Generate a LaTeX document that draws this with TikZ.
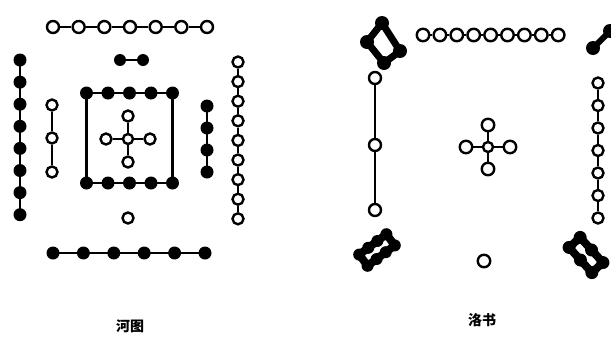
\documentclass[tikz,border=0pt]{standalone}
\usepackage{fontspec}
\newfontfamily\cjk{Noto Sans CJK SC}
\usepackage{tikz}
\usetikzlibrary{calc}

\begin{document}
\begin{tikzpicture}[x=1pt,y=-1pt,line width=2.4pt,
  wdot/.style={circle,draw,line width=2.4pt,fill=white,inner sep=0pt,minimum size=#1},
  wdot/.default=11pt,
  bdot/.style={circle,fill=black,inner sep=0pt,minimum size=#1},
  bdot/.default=13pt,
  blob/.style={line width=#1,line join=round,line cap=round},
  lbl/.style={font=\cjk\bfseries\fontsize{14}{14}\selectfont}]
\useasboundingbox (0,0) rectangle (611,338);
% He Tu
\foreach \i in {1,...,7} \node[wdot=12pt] (s7-\i) at ({53+25.67*(\i-1)},27) {};
\foreach \i [count=\j from 2] in {1,...,6} \draw (s7-\i) -- (s7-\j);
\node[bdot=12pt] (s2-1) at (120,60) {};
\node[bdot=12pt] (s2-2) at (143,60) {};
\draw (s2-1.center) -- (s2-2.center);
\foreach \i in {1,...,8} \node[bdot] (e8-\i) at (20,{60+22.1*(\i-1)}) {};
\draw (e8-1.center) -- (e8-8.center);
\foreach \i/\y in {1/105,2/138,3/172} \node[wdot] (e3-\i) at (52,\y) {};
\draw (e3-1) -- (e3-2) (e3-2) -- (e3-3);
\foreach \i in {1,...,5} {
  \node[bdot] (t10-\i) at ({86.5+21.5*(\i-1)},93) {};
  \node[bdot] (b10-\i) at ({86.5+21.5*(\i-1)},183) {};
}
\draw (t10-1.center) -- (t10-5.center) -- (b10-5.center) -- (b10-1.center) -- cycle;
\foreach \i in {1,...,4} \node[bdot] (w4-\i) at (207,{106+22*(\i-1)}) {};
\draw (w4-1.center) -- (w4-4.center);
\foreach \i in {1,...,9} \node[wdot=11pt] (w9-\i) at (238,{62+19.6*(\i-1)}) {};
\foreach \i [count=\j from 2] in {1,...,8} \draw (w9-\i) -- (w9-\j);
\node[wdot=10pt] (c5) at (128,139) {};
\foreach \n/\p in {t/{(128,116)},b/{(128,162)},l/{(106,139)},r/{(150,139)}} {
  \node[wdot] (c5\n) at \p {};
  \draw (c5) -- (c5\n);
}
\node[wdot] (n1) at (128,218) {};
\foreach \i in {1,...,6} \node[bdot] (n6-\i) at ({53+30.4*(\i-1)},253) {};
\draw (n6-1.center) -- (n6-6.center);
\node[lbl] (hetu) at (130,326) {河图};
% Luo Shu
\foreach \i in {1,...,9} \node[wdot=12.5pt] (l9-\i) at ({423+16.9*(\i-1)},35) {};
\foreach \i [count=\j from 2] in {1,...,8} \draw (l9-\i) -- (l9-\j);
\foreach \i/\p in {1/{(382,23)},2/{(367,42)},3/{(384,63)},4/{(400,51)}}
  \node[bdot=14pt] (l4-\i) at \p {};
\draw[blob=7pt] (l4-1.center) -- (l4-2.center) -- (l4-3.center) -- (l4-4.center) -- cycle;
\node[bdot=14pt] (l2-1) at (593,48) {};
\node[bdot=14pt] (l2-2) at (610,31) {};
\draw[blob=6pt] (l2-1.center) -- (l2-2.center);
\foreach \i/\y in {1/78,2/145,3/210} \node[wdot=12pt] (l3-\i) at (375,\y) {};
\draw (l3-1) -- (l3-2) (l3-2) -- (l3-3);
\node[wdot=10pt] (l5) at (488,147) {};
\foreach \n/\p in {t/{(488,125)},b/{(488,169)},l/{(466,147)},r/{(510,147)}} {
  \node[wdot=12.5pt] (l5\n) at \p {};
  \draw (l5) -- (l5\n);
}
\foreach \i in {1,...,7} \node[wdot=11pt] (l7-\i) at (598,{83+22.5*(\i-1)}) {};
\foreach \i [count=\j from 2] in {1,...,6} \draw (l7-\i) -- (l7-\j);
\foreach \t/\s [count=\i] in {-17/-7,-5.7/-7,5.7/-7,17/-7,17/7,5.7/7,-5.7/7,-17/7}
  \node[bdot=12pt] (l8-\i) at ({377+0.8*\t+0.6*\s},{250-0.6*\t+0.8*\s}) {};
\draw[blob=8pt] (l8-1.center) -- (l8-4.center) -- (l8-5.center) -- (l8-8.center) -- cycle;
\foreach \t/\s [count=\i] in {-17/-7.5,0/-7.5,17/-7.5,17/7.5,0/7.5,-17/7.5}
  \node[bdot=13pt] (l6-\i) at ({586+0.67*\t-0.74*\s},{255+0.74*\t+0.67*\s}) {};
\draw[blob=8pt] (l6-1.center) -- (l6-3.center) -- (l6-4.center) -- (l6-6.center) -- cycle;
\node[wdot=12.5pt] (l1) at (484,261) {};
\node[lbl] (luoshu) at (482,320) {洛书};
\end{tikzpicture}
\end{document}
